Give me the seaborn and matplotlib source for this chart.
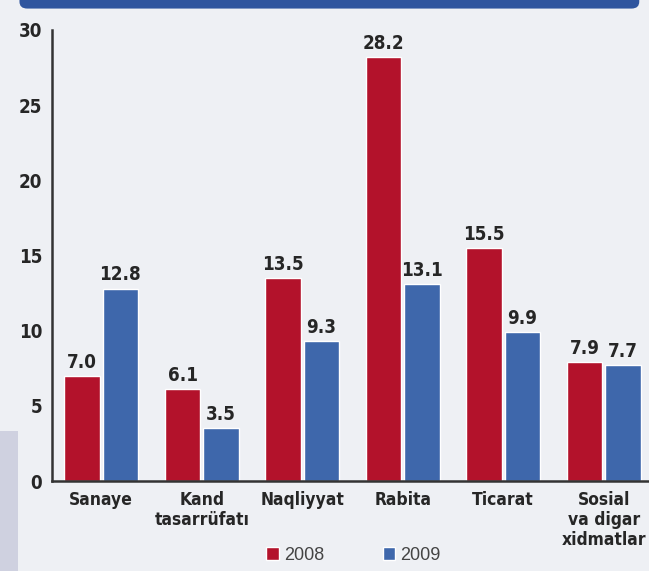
import pandas as pd
import numpy as np
import matplotlib.pyplot as plt
import seaborn as sns
from matplotlib.patches import FancyBboxPatch, Rectangle, Patch

# data
categories = ["Sanaye", "Kand\ntasarrüfatı", "Naqliyyat", "Rabita", "Ticarat",
              "Sosial\nva digar\nxidmatlar"]
years = ["2008", "2009"]
values_2008 = [7.0, 6.1, 13.5, 28.2, 15.5, 7.9]
values_2009 = [12.8, 3.5, 9.3, 13.1, 9.9, 7.7]
y_ticks = [0, 5, 10, 15, 20, 25, 30]

RED = "#b3122b"
BLUE = "#3e67ab"
TEXT = "#262626"


def main():
    df = pd.DataFrame({
        "category": categories * 2,
        "year": [years[0]] * len(categories) + [years[1]] * len(categories),
        "value": values_2008 + values_2009,
    })

    sns.set_style("white")
    plt.rcParams["font.family"] = ["DejaVu Sans"]
    plt.rcParams["font.stretch"] = "condensed"

    fig = plt.figure(figsize=(6.49, 5.71), dpi=100, facecolor="#eef0f4")

    # left bluish strip and top header band
    fig.patches.append(Rectangle((0, 0), 0.028, 0.245, transform=fig.transFigure,
                                 facecolor="#cfd1e0", edgecolor="none", zorder=0))
    fig.patches.append(FancyBboxPatch((0.03, 0.985), 0.955, 0.06,
                                      boxstyle="round,pad=0,rounding_size=0.012",
                                      transform=fig.transFigure,
                                      facecolor="#2f559e", edgecolor="none", zorder=1))

    ax = fig.add_axes([0.080, 0.1576, 0.92, 0.79])
    ax.set_facecolor("none")

    sns.barplot(data=df, x="category", y="value", hue="year", order=categories,
                hue_order=years, palette=[RED, BLUE], width=0.76, gap=0.07,
                saturation=1, ax=ax, legend=False)

    for cont in ax.containers:
        ax.bar_label(cont, fmt="%.1f", padding=3, fontsize=13.5,
                     fontweight="bold", fontstretch="condensed", color=TEXT)

    ax.set_ylim(0, 30)
    ax.set_xlim(-0.49, 5.45)
    ax.set_yticks(y_ticks)
    ax.set_yticklabels([str(t) for t in y_ticks], fontsize=13.5,
                       fontweight="bold", fontstretch="condensed", color=TEXT)
    ax.tick_params(axis="y", direction="in", length=8, width=1.5,
                   color="#333333", pad=7)
    ax.set_xticks(range(len(categories)))
    ax.set_xticklabels(categories, fontsize=12.5, fontweight="bold",
                       fontstretch="condensed", color=TEXT,
                       linespacing=1.15, va="top")
    ax.tick_params(axis="x", length=0, pad=7)
    ax.set_xticks(np.arange(0.5, len(categories) - 1, 1.0), minor=True)
    ax.tick_params(axis="x", which="minor", direction="in", length=6,
                   width=1.5, color="#333333")
    ax.set_xlabel("")
    ax.set_ylabel("")

    for side in ["top", "right"]:
        ax.spines[side].set_visible(False)
    for side in ["left", "bottom"]:
        ax.spines[side].set_color("#333333")
        ax.spines[side].set_linewidth(1.8)

    handles = [Patch(facecolor=RED, label=years[0]),
               Patch(facecolor=BLUE, label=years[1])]
    fig.legend(handles=handles, loc="center", bbox_to_anchor=(0.545, 0.027),
               ncol=2, frameon=False, handlelength=0.7,
               handleheight=0.7, handletextpad=0.3, columnspacing=3.2,
               labelcolor="#444444",
               prop={"family": ["Liberation Sans", "DejaVu Sans"], "size": 13})

    fig.savefig("out.png", dpi=100, facecolor=fig.get_facecolor())


if __name__ == "__main__":
    main()
